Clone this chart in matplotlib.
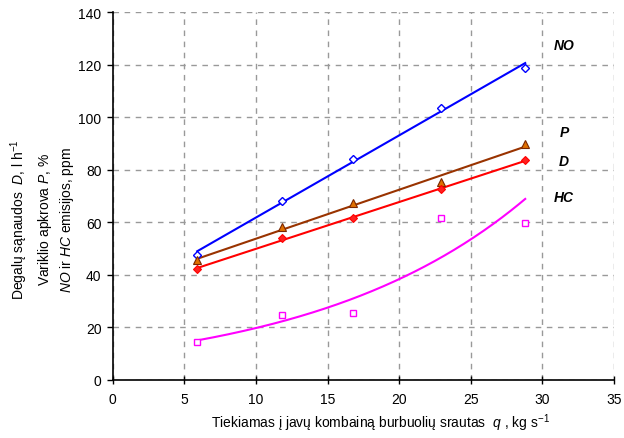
import numpy as np
import matplotlib
matplotlib.use("Agg")
import matplotlib.pyplot as plt

plt.rcParams['font.family'] = ['Liberation Sans', 'DejaVu Sans']
plt.rcParams['mathtext.fontset'] = 'custom'
plt.rcParams['mathtext.rm'] = 'Liberation Sans'
plt.rcParams['mathtext.it'] = 'Liberation Sans:italic'
plt.rcParams['mathtext.bf'] = 'Liberation Sans:bold'

# Data
q = [5.9, 11.8, 16.8, 22.9, 28.8]
NO = [47.5, 68.2, 84.0, 103.7, 118.9]
P = [45.6, 58.0, 67.2, 75.4, 90.0]
D = [42.3, 53.9, 61.5, 72.5, 83.7]
HC = [14.3, 24.7, 25.3, 61.7, 59.8]

series_labels = ["NO", "P", "D", "HC"]
label_pos_y = [127.5, 94.3, 83.5, 69.5]

xticks = [0, 5, 10, 15, 20, 25, 30, 35]
yticks = [0, 20, 40, 60, 80, 100, 120, 140]

fig = plt.figure(figsize=(6.24, 4.39), dpi=100)
ax = fig.add_axes([0.1806, 0.1328, 0.984 - 0.1806, 0.9697 - 0.1328])

xs = np.array(q)
xf = np.linspace(min(q), max(q), 200)

# Linear trendlines
for ys, col in [(NO, '#0000FF'), (P, '#993300'), (D, '#FF0000')]:
    c = np.polyfit(xs, np.array(ys), 1)
    ax.plot(xf, np.polyval(c, xf), color=col, lw=1.5, zorder=3)
# Exponential trendline for HC
c = np.polyfit(xs, np.log(np.array(HC)), 1)
ax.plot(xf, np.exp(np.polyval(c, xf)), color='#FF00FF', lw=1.5, zorder=3)

ax.plot(q, NO, linestyle='none', marker='D', ms=4, mfc='white', mec='#0000FF', mew=1, zorder=4)
ax.plot(q, P, linestyle='none', marker='^', ms=6, mfc='#E07000', mec='#7A2600', mew=0.8, zorder=4)
ax.plot(q, D, linestyle='none', marker='D', ms=4, mfc='#FF2020', mec='#FF0000', mew=0.8, zorder=4)
ax.plot(q, HC, linestyle='none', marker='s', ms=5, mfc='white', mec='#FF00FF', mew=1, zorder=4)

for lab, yy in zip(series_labels, label_pos_y):
    ax.text(31.5, yy, lab, fontsize=10, fontweight='bold', fontstyle='italic',
            ha='center', va='center')

ax.set_xlim(0, 35)
ax.set_ylim(0, 140)
ax.set_xticks(xticks)
ax.set_yticks(yticks)
ax.tick_params(axis='x', direction='inout', length=6, width=1, labelsize=10, pad=6)
ax.tick_params(axis='y', direction='out', length=4, width=1, labelsize=10, pad=4)
ax.grid(True, color='#999999', linestyle=(0, (4, 4)), linewidth=1)
ax.set_axisbelow(True)
for s in ['top', 'right']:
    ax.spines[s].set_visible(False)
for s in ['left', 'bottom']:
    ax.spines[s].set_linewidth(1.2)

fig.text(0.031, 0.50, r"Degalų sąnaudos  $\mathit{D}$, l h$^{-1}$", rotation=90,
         ha='center', va='center', fontsize=10)
fig.text(0.072, 0.50, r"Variklio apkrova $\mathit{P}$, %", rotation=90,
         ha='center', va='center', fontsize=10)
fig.text(0.107, 0.50, r"$\mathit{NO}$ ir $\mathit{HC}$ emisijos, ppm", rotation=90,
         ha='center', va='center', fontsize=10)

fig.text(0.61, 0.035, r"Tiekiamas į javų kombainą burbuolių srautas  $\mathit{q}$ , kg s$^{-1}$",
         ha='center', va='center', fontsize=10)

fig.savefig("out.png", dpi=100)
